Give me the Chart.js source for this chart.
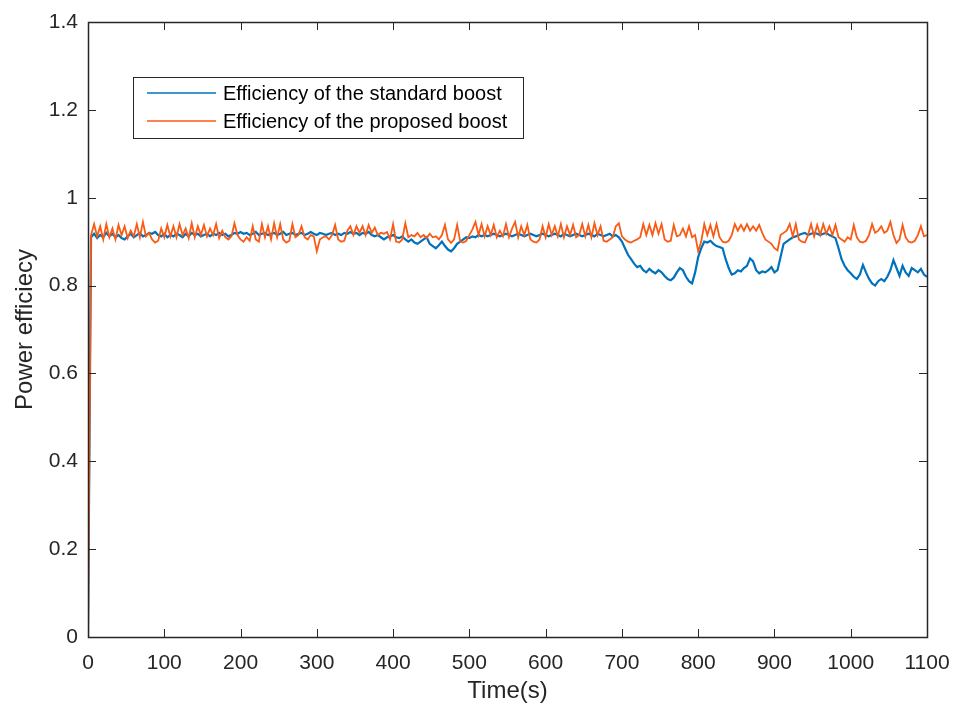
<!DOCTYPE html>
<html>
<head>
<meta charset="utf-8">
<script src="https://cdn.jsdelivr.net/npm/chart.js@4.4.1/dist/chart.umd.min.js"></script>
<style>
  html, body { margin: 0; padding: 0; background: #ffffff; }
  #wrap { width: 960px; height: 706px; }
</style>
</head>
<body>
<div id="wrap"><canvas id="chart" width="960" height="706"></canvas></div>
<script>
// Sampling interval of the logged efficiency (seconds) and time range
const sampleStep = 4;
const timeRange = [0, 1100];
const xTicks = [0, 100, 200, 300, 400, 500, 600, 700, 800, 900, 1000, 1100];
const yTicks = [0, 0.2, 0.4, 0.6, 0.8, 1, 1.2, 1.4];

const seriesLabels = ['Efficiency of the standard boost', 'Efficiency of the proposed boost'];

// Efficiency of the standard boost converter, one value every 4 s from t = 0
const standardBoost = [
  0, 0.91, 0.918, 0.908, 0.915, 0.91, 0.92, 0.912, 0.918, 0.91,
  0.915, 0.908, 0.905, 0.912, 0.918, 0.91, 0.915, 0.92, 0.912, 0.915,
  0.92, 0.918, 0.922, 0.915, 0.912, 0.918, 0.91, 0.915, 0.912, 0.918,
  0.915, 0.91, 0.918, 0.912, 0.92, 0.915, 0.918, 0.912, 0.915, 0.918,
  0.912, 0.918, 0.915, 0.92, 0.915, 0.918, 0.912, 0.915, 0.92, 0.918,
  0.922, 0.918, 0.92, 0.915, 0.918, 0.922, 0.915, 0.918, 0.92, 0.915,
  0.918, 0.92, 0.915, 0.918, 0.922, 0.915, 0.918, 0.92, 0.915, 0.918,
  0.92, 0.915, 0.918, 0.922, 0.918, 0.915, 0.92, 0.918, 0.915, 0.918,
  0.92, 0.915, 0.918, 0.915, 0.92, 0.918, 0.922, 0.918, 0.92, 0.915,
  0.92, 0.918, 0.922, 0.915, 0.912, 0.915, 0.91, 0.905, 0.91, 0.912,
  0.915, 0.91, 0.908, 0.912, 0.905, 0.9, 0.905, 0.898, 0.895, 0.9,
  0.905, 0.91, 0.895, 0.89, 0.885, 0.892, 0.9, 0.89, 0.882, 0.878,
  0.885, 0.895, 0.9, 0.905, 0.91, 0.908, 0.912, 0.91, 0.915, 0.912,
  0.915, 0.912, 0.915, 0.918, 0.915, 0.912, 0.915, 0.918, 0.915, 0.912,
  0.915, 0.918, 0.915, 0.912, 0.915, 0.918, 0.915, 0.912, 0.915, 0.918,
  0.915, 0.912, 0.915, 0.918, 0.915, 0.912, 0.918, 0.915, 0.912, 0.915,
  0.918, 0.915, 0.912, 0.915, 0.918, 0.915, 0.912, 0.918, 0.915, 0.912,
  0.915, 0.918, 0.912, 0.915, 0.91, 0.9, 0.885, 0.87, 0.86, 0.85,
  0.842, 0.845, 0.835, 0.83, 0.838, 0.832, 0.828, 0.835, 0.83, 0.822,
  0.815, 0.812, 0.818, 0.83, 0.84, 0.835, 0.82, 0.81, 0.805, 0.83,
  0.865, 0.885, 0.9, 0.898, 0.902, 0.895, 0.89, 0.888, 0.885, 0.86,
  0.84, 0.825, 0.828, 0.835, 0.832, 0.84, 0.845, 0.862, 0.855, 0.835,
  0.828, 0.832, 0.83, 0.835, 0.842, 0.83, 0.835, 0.865, 0.895, 0.9,
  0.905, 0.91, 0.912, 0.915, 0.918, 0.92, 0.915, 0.918, 0.92, 0.918,
  0.915, 0.918, 0.92, 0.915, 0.912, 0.908, 0.885, 0.86, 0.845, 0.835,
  0.828, 0.82, 0.815, 0.825, 0.847, 0.83, 0.815, 0.805, 0.8, 0.81,
  0.815, 0.81, 0.82, 0.835, 0.858, 0.84, 0.822, 0.845, 0.83, 0.822,
  0.84, 0.835, 0.83, 0.838, 0.825, 0.82
];

// Efficiency of the proposed boost converter, same sampling
const proposedBoost = [
  0, 0.915, 0.94, 0.912, 0.935, 0.905, 0.94, 0.91, 0.93, 0.905,
  0.938, 0.915, 0.935, 0.908, 0.925, 0.912, 0.94, 0.91, 0.945, 0.912,
  0.92, 0.905, 0.898, 0.902, 0.93, 0.91, 0.938, 0.912, 0.935, 0.91,
  0.94, 0.915, 0.93, 0.908, 0.942, 0.91, 0.935, 0.915, 0.938, 0.912,
  0.93, 0.915, 0.94, 0.908, 0.925, 0.91, 0.905, 0.912, 0.942, 0.915,
  0.905, 0.9, 0.91, 0.902, 0.935, 0.905, 0.9, 0.94, 0.91, 0.935,
  0.905, 0.942, 0.91, 0.94, 0.905, 0.898, 0.902, 0.94, 0.91, 0.915,
  0.935, 0.91, 0.905, 0.915, 0.912, 0.878, 0.905, 0.91, 0.912, 0.905,
  0.915, 0.938, 0.905, 0.9, 0.902, 0.925, 0.935, 0.915, 0.935, 0.92,
  0.935, 0.915, 0.938, 0.92, 0.932, 0.915, 0.92, 0.918, 0.922, 0.905,
  0.94, 0.9, 0.898, 0.905, 0.942, 0.91, 0.915, 0.912, 0.92, 0.91,
  0.915, 0.908, 0.918, 0.91, 0.912, 0.905, 0.915, 0.938, 0.905, 0.897,
  0.905, 0.938, 0.9, 0.898, 0.902, 0.915, 0.928, 0.945, 0.915, 0.94,
  0.912, 0.935, 0.915, 0.938, 0.91, 0.925, 0.912, 0.94, 0.91, 0.93,
  0.945, 0.91, 0.935, 0.915, 0.938, 0.905, 0.9, 0.898, 0.905, 0.935,
  0.91, 0.94, 0.915, 0.935, 0.912, 0.94, 0.91, 0.935, 0.915, 0.938,
  0.91, 0.915, 0.94, 0.912, 0.938, 0.91, 0.942, 0.915, 0.935, 0.902,
  0.9, 0.905, 0.91, 0.935, 0.942, 0.912, 0.905, 0.9, 0.898, 0.902,
  0.905, 0.91, 0.94, 0.915, 0.938, 0.915, 0.942, 0.918, 0.94, 0.905,
  0.9, 0.902, 0.938, 0.912, 0.915, 0.93, 0.912, 0.935, 0.91, 0.915,
  0.878, 0.9, 0.94, 0.915, 0.938, 0.912, 0.94, 0.91, 0.9, 0.898,
  0.902, 0.915, 0.94, 0.925, 0.938, 0.925, 0.94, 0.925, 0.935, 0.925,
  0.938, 0.92, 0.905, 0.9, 0.895, 0.885, 0.88, 0.915, 0.92, 0.925,
  0.94, 0.912, 0.94, 0.905, 0.9, 0.898, 0.915, 0.94, 0.912, 0.938,
  0.915, 0.94, 0.918, 0.935, 0.915, 0.938, 0.91, 0.905, 0.9, 0.91,
  0.905, 0.938, 0.91, 0.9, 0.898, 0.902, 0.915, 0.94, 0.92, 0.925,
  0.935, 0.92, 0.925, 0.945, 0.915, 0.897, 0.905, 0.938, 0.91, 0.9,
  0.898, 0.902, 0.915, 0.935, 0.912, 0.915
];

const seriesColors = ['#0072BD', '#F95A14'];
const axisColor = '#262626';
const fontFamily = 'Arial, "Liberation Sans", Helvetica, sans-serif';

function toPoints(values) {
  return values.map((v, i) => ({ x: i * sampleStep, y: v }));
}

// Box around the plot area with inward tick marks on all four sides
const framePlugin = {
  id: 'frame',
  afterDatasetsDraw(chart) {
    const { ctx, chartArea: a, scales } = chart;
    const len = 8;
    ctx.save();
    ctx.strokeStyle = axisColor;
    ctx.lineWidth = 1;
    ctx.beginPath();
    xTicks.forEach(t => {
      const px = Math.round(scales.x.getPixelForValue(t)) + 0.5;
      ctx.moveTo(px, a.bottom); ctx.lineTo(px, a.bottom - len);
      ctx.moveTo(px, a.top); ctx.lineTo(px, a.top + len);
    });
    yTicks.forEach(t => {
      const py = Math.round(scales.y.getPixelForValue(t)) + 0.5;
      ctx.moveTo(a.left, py); ctx.lineTo(a.left + len, py);
      ctx.moveTo(a.right, py); ctx.lineTo(a.right - len, py);
    });
    ctx.stroke();
    ctx.lineWidth = 1.5;
    ctx.strokeRect(Math.round(a.left) + 0.5, Math.round(a.top) + 0.5,
                   Math.round(a.right - a.left), Math.round(a.bottom - a.top));
    ctx.restore();
  }
};

// Boxed legend placed inside the upper-left part of the axes
const insetLegendPlugin = {
  id: 'insetLegend',
  afterDraw(chart) {
    const { ctx, chartArea: a } = chart;
    const x0 = a.left + 45, y0 = a.top + 55, w = 390, h = 61;
    ctx.save();
    ctx.fillStyle = '#ffffff';
    ctx.fillRect(x0, y0, w, h);
    ctx.strokeStyle = '#262626';
    ctx.lineWidth = 1;
    ctx.strokeRect(x0 + 0.5, y0 + 0.5, w, h);
    ctx.font = '20px ' + fontFamily;
    ctx.textBaseline = 'middle';
    seriesLabels.forEach((label, i) => {
      const cy = Math.round(y0 + 16 + i * 28);
      ctx.strokeStyle = seriesColors[i];
      ctx.lineWidth = 1.5;
      ctx.beginPath();
      ctx.moveTo(x0 + 14, cy);
      ctx.lineTo(x0 + 83, cy);
      ctx.stroke();
      ctx.fillStyle = '#000000';
      ctx.fillText(label, x0 + 90, cy + 1);
    });
    ctx.restore();
  }
};

new Chart(document.getElementById('chart'), {
  type: 'line',
  data: {
    datasets: [
      {
        label: seriesLabels[0],
        data: toPoints(standardBoost),
        borderColor: seriesColors[0],
        borderWidth: 2.2,
        pointRadius: 0,
        tension: 0,
        order: 1
      },
      {
        label: seriesLabels[1],
        data: toPoints(proposedBoost),
        borderColor: seriesColors[1],
        borderWidth: 1.8,
        pointRadius: 0,
        tension: 0,
        order: 0
      }
    ]
  },
  options: {
    responsive: false,
    animation: false,
    events: [],
    layout: { padding: { top: 22, right: 33, left: 0, bottom: 0 } },
    plugins: { legend: { display: false }, tooltip: { enabled: false } },
    scales: {
      x: {
        type: 'linear',
        min: timeRange[0],
        max: timeRange[1],
        afterBuildTicks(scale) { scale.ticks = xTicks.map(v => ({ value: v })); },
        afterFit(scale) {
          scale.height = 69;
          scale.paddingLeft = 0;
          scale.paddingRight = 0;
        },
        grid: { display: false, drawTicks: false },
        border: { display: false },
        ticks: {
          padding: 14,
          maxRotation: 0,
          autoSkip: false,
          color: axisColor,
          font: { size: 21, family: fontFamily },
          callback: v => String(v)
        },
        title: {
          display: true,
          text: 'Time(s)',
          color: axisColor,
          padding: { top: 0, bottom: 0 },
          font: { size: 24, family: fontFamily }
        }
      },
      y: {
        type: 'linear',
        min: 0,
        max: 1.4,
        afterBuildTicks(scale) { scale.ticks = yTicks.map(v => ({ value: v })); },
        afterFit(scale) {
          scale.width = 88;
          scale.paddingTop = 0;
          scale.paddingBottom = 0;
        },
        grid: { display: false, drawTicks: false },
        border: { display: false },
        ticks: {
          padding: 10,
          autoSkip: false,
          color: axisColor,
          font: { size: 21, family: fontFamily },
          callback: v => String(Math.round(v * 10) / 10)
        },
        title: {
          display: true,
          text: 'Power efficiecy',
          color: axisColor,
          padding: { top: 11, bottom: 0 },
          font: { size: 24, family: fontFamily }
        }
      }
    }
  },
  plugins: [framePlugin, insetLegendPlugin]
});
</script>
</body>
</html>
